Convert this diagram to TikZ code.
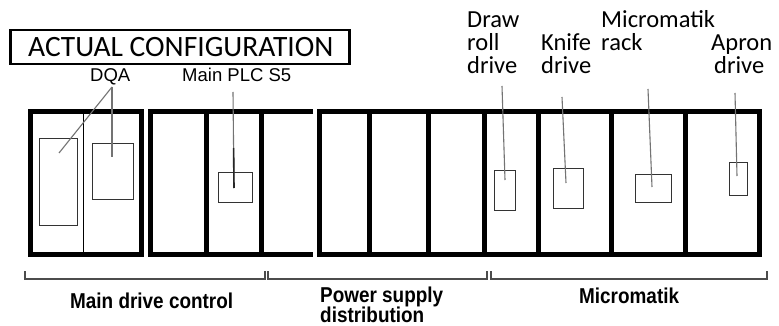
\documentclass[tikz,border=0pt]{standalone}
\usepackage{fontspec}
\newfontfamily\calfont{Carlito}
\newfontfamily\arialfont{Liberation Sans}
\newfontfamily\narrowfont[FakeStretch=0.88]{Liberation Sans}
\begin{document}
\begin{tikzpicture}[x=1pt,y=-1pt,
  frame/.style={line width=5pt,line cap=rect},
  unit/.style={draw=black!80,line width=1.1pt,inner sep=0pt},
  leader/.style={draw=black!55,line width=1.1pt},
  brace/.style={draw=black!70,line width=1.2pt},
  toplbl/.style={inner sep=0pt,anchor=base west,font=\calfont\fontsize{24.5}{26}\selectfont},
  plclbl/.style={inner sep=0pt,anchor=base west,font=\arialfont\fontsize{18.5}{20}\selectfont},
  grplbl/.style={inner sep=0pt,anchor=base west,font=\narrowfont\bfseries\fontsize{21.5}{23}\selectfont}]
\useasboundingbox (0,0) rectangle (779,326);
\fill[white] (0,0) rectangle (779,326);

% title
\node[draw=black,line width=2.5pt,minimum width=339pt,minimum height=34pt,anchor=north west,inner sep=0pt] (title) at (9,29) {};
\node[inner sep=0pt,anchor=base west,font=\calfont\fontsize{29.5}{31}\selectfont] (titletext) at (28,57) {ACTUAL CONFIGURATION};

% cabinet 1
\draw[frame] (30.5,111.5) rectangle (141.5,254.5);
\draw[black,line width=1.3pt] (83.5,113) -- (83.5,253);
% cabinet 2 (open right side)
\draw[frame,line cap=butt] (313,111.5) -- (150.5,111.5) -- (150.5,254.5) -- (313,254.5);
\draw[frame,line cap=butt] (206.5,111.5) -- (206.5,254.5);
\draw[frame,line cap=butt] (261,111.5) -- (261,254.5);
% cabinet 3
\draw[frame] (319.5,111.5) rectangle (759,254.5);
\foreach \xx in {369.5,428.5,484.5,538.5,611.5,685}
  \draw[frame,line cap=butt] (\xx,111.5) -- (\xx,254.5);

% units
\node[unit,minimum width=38pt,minimum height=87pt,anchor=north west] (dqaA) at (39,138) {};
\node[unit,minimum width=41pt,minimum height=56pt,anchor=north west] (dqaB) at (92,143) {};
\node[unit,minimum width=34pt,minimum height=30pt,anchor=north west] (plc) at (218,172) {};
\node[unit,minimum width=21pt,minimum height=40pt,anchor=north west] (drawroll) at (494,170) {};
\node[unit,minimum width=30pt,minimum height=40pt,anchor=north west] (knife) at (553,168) {};
\node[unit,minimum width=36pt,minimum height=28pt,anchor=north west] (rack) at (635,174) {};
\node[unit,minimum width=18pt,minimum height=33pt,anchor=north west] (apron) at (729,162) {};

% labels
\node[plclbl] (lblDQA) at (90,82) {DQA};
\node[plclbl] (lblPLC) at (182,82) {Main PLC S5};
\node[toplbl] (lblDraw1) at (467,28) {Draw};
\node[toplbl] (lblDraw2) at (467,50.5) {roll};
\node[toplbl] (lblDraw3) at (467,74) {drive};
\node[toplbl] (lblKnife1) at (541,50.5) {Knife};
\node[toplbl] (lblKnife2) at (541,74) {drive};
\node[toplbl] (lblRack1) at (601,28) {Micromatik};
\node[toplbl] (lblRack2) at (601,50.5) {rack};
\node[toplbl] (lblApron1) at (711,50.5) {Apron};
\node[toplbl] (lblApron2) at (714,74) {drive};

% leader end points
\coordinate (dqaTop) at (112,87);
\coordinate (dqaEndA) at (59,153);
\coordinate (dqaEndB) at (112,157);
\coordinate (plcTop) at (233,92);
\coordinate (plcEnd) at (234,188);
\coordinate (plcMid) at (233.6,148);
\coordinate (drawTop) at (502,86);
\coordinate (drawEnd) at (505,180);
\coordinate (knifeTop) at (562,97);
\coordinate (knifeEnd) at (566,183);
\coordinate (rackTop) at (648,89);
\coordinate (rackEnd) at (652,187);
\coordinate (apronTop) at (735,93);
\coordinate (apronEnd) at (737,176);

\draw[leader] (dqaTop) -- (dqaEndA);
\draw[leader] (dqaTop) -- (dqaEndB);
\draw[leader] (plcTop) -- (plcEnd);
\draw[black!85,line width=1.6pt] (plcMid) -- (plcEnd);
\draw[leader] (drawTop) -- (drawEnd);
\draw[leader] (knifeTop) -- (knifeEnd);
\draw[leader] (rackTop) -- (rackEnd);
\draw[leader] (apronTop) -- (apronEnd);

% group brackets
\draw[brace] (25,271) -- (25,279) -- (265,279) -- (265,271);
\draw[brace] (268,271) -- (268,279) -- (487,279) -- (487,271);
\draw[brace] (491,271) -- (491,279) -- (767,279) -- (767,271);

\node[grplbl] (grpMain) at (70,308) {Main drive control};
\node[grplbl] (grpPow1) at (320,302.5) {Power supply};
\node[grplbl] (grpPow2) at (320,322.5) {distribution};
\node[grplbl] (grpMic) at (579,303) {Micromatik};
\end{tikzpicture}
\end{document}
